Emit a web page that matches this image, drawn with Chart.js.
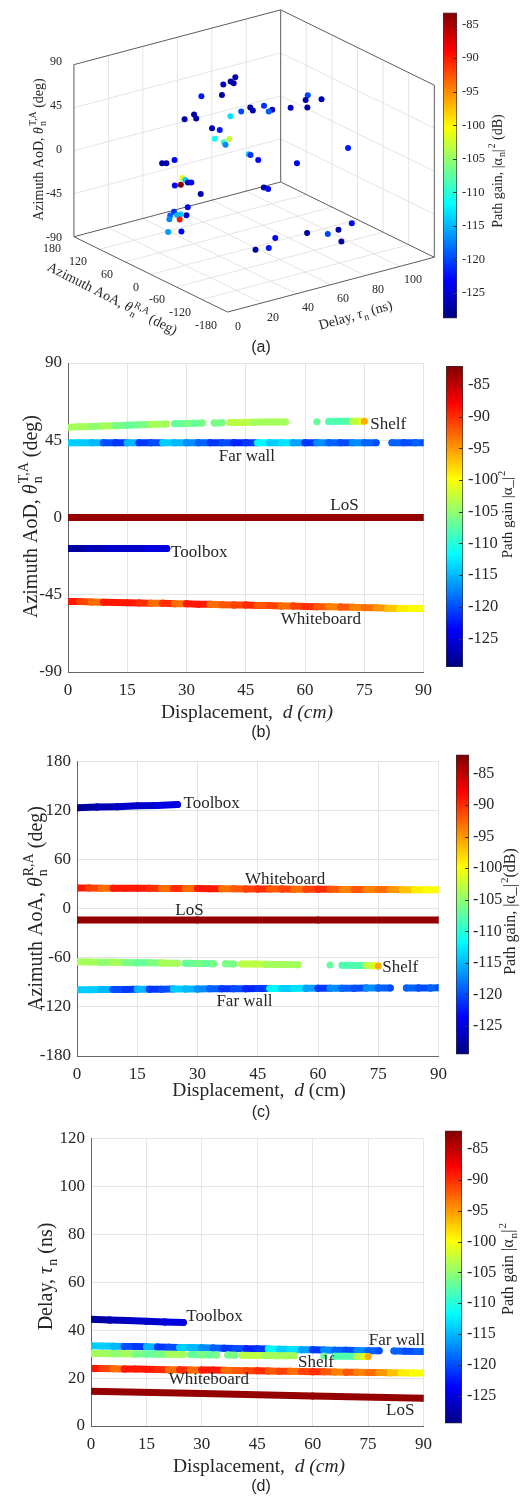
<!DOCTYPE html>
<html lang="en">
<head>
    <meta charset="UTF-8">
    <title>Multipath components vs. displacement</title>
    <script src="https://cdn.jsdelivr.net/npm/chart.js"></script>
    <style>
        html, body { margin: 0; padding: 0; background: #fff; }
        #page { position: relative; width: 522px; height: 1497px; overflow: hidden; background: #fff; }
    </style>
</head>
<body>
    <div id="page"></div>
    <script>
        // Ticks
        const dispTicks = [0, 15, 30, 45, 60, 75, 90];
        const aodTicks = [-90, -45, 0, 45, 90];
        const aoaTicks = [-180, -120, -60, 0, 60, 120, 180];
        const delayTicks = [0, 20, 40, 60, 80, 100, 120];
        const delayTicks3d = [0, 20, 40, 60, 80, 100];
        const gainTicks = [-125, -120, -115, -110, -105, -100, -95, -90, -85];

        // (a) single snapshot: delay (ns), AoA (deg), AoD (deg), gain (dB)
        const snapDelay = [60, 60, 62, 55, 45, 50, 80, 80, 85, 75, 80, 65, 60, 60, 68, 66, 55, 45, 40, 40, 35, 45, 48, 35, 30, 32, 33, 90, 50, 50, 52, 70, 20, 20, 22, 25, 26, 28, 30, 12, 14, 30, 55, 57, 20, 15, 20, 18, 22, 21, 20, 23, 20, 24, 50, 65, 75, 80, 85, 75, 40, 45];
        const snapAoA = [44, 55, 56, 52, 63, 35, -45, -40, -57, -25, -44, -3, 9, 3, -10, -10, 10, -5, 60, 55, 62, 38, 32, -9, -63, -42, -42, -99, -28, -32, -42, -60, 54, 44, 33, 27, 24, 26, 26, -8, -14, 4, -43, -45, -6, 6, -3, 27, 19, 23, 37, 25, 40, 25, -90, -104, -112, -117, -128, -144, -84, -95];
        const snapAoD = [78, 71, 68, 71, 61, 66, 69, 63, 65, 54, 56, 56, 54, 52, 52, 51, 52, 55, 45, 42, 42, 33, 31, 37, 51, 42, 39, 21, 18, 18, 14, 6, 5, 7, 12, -7, -9, -13, -14, -1, 0, -21, -16, -18, -28, -33, -37, -43, -42, -43, -50, -49, -64, -62, -56, -55, -59, -56, -49, -60, -65, -63];
        const snapGain = [-127, -127, -127, -126, -122, -127, -120, -127, -126, -126, -127, -121, -127, -127, -126, -119, -120, -113, -127, -127, -127, -127, -122, -111, -103, -109, -117, -122, -114, -121, -123, -124, -127, -127, -123, -101, -114, -127, -123, -123, -83, -127, -127, -123, -123, -121, -126, -119, -114, -115, -117, -90, -116, -123, -123, -127, -120, -127, -123, -127, -127, -122];

        // (b)-(d) tracked paths vs displacement d (cm)
        const losD = [0, 30, 60, 90];
        const losGain = [-83, -83, -83, -82.5];
        const losAoD = [0, 0, 0, 0];
        const losAoA = [-14, -14, -14, -14];
        const losDelay = [14.5, 13.5, 12.5, 11.6];

        const toolD = [0, 5, 10, 15, 20, 25];
        const toolGain = [-128, -127, -126, -126, -125, -125];
        const toolAoD = [-18, -18, -18, -18, -18, -18];
        const toolAoA = [123, 124, 124.5, 125.5, 126, 127];
        const toolDelay = [44.5, 44.2, 44, 43.7, 43.4, 43.2];

        const wbD = [0, 3, 6, 9, 12, 15, 18, 21, 24, 27, 30, 33, 36, 39, 42, 45, 48, 51, 54, 57, 60, 63, 66, 69, 72, 75, 78, 81, 84, 87, 90];
        const wbGain = [-89, -91, -93, -89, -89, -89, -90, -93, -90, -93, -89, -89, -93, -92, -91, -90, -92, -91, -93, -91, -90, -92, -94, -92, -94, -93, -95, -97, -99, -100, -100];
        const wbAoD = [-49, -49, -49.2, -49.4, -49.5, -49.6, -49.8, -50, -50, -50.2, -50.3, -50.5, -50.6, -50.8, -51, -51, -51.2, -51.3, -51.5, -51.6, -51.8, -52, -52, -52.2, -52.3, -52.5, -52.6, -52.8, -53, -53, -53];
        const wbAoA = [25.2, 25.1, 25, 25, 24.9, 24.8, 24.7, 24.6, 24.5, 24.5, 24.4, 24.3, 24.2, 24.1, 24, 24, 23.9, 23.8, 23.7, 23.6, 23.6, 23.5, 23.4, 23.4, 23.3, 23.2, 23.2, 23.1, 23.1, 23, 23];
        const wbDelay = [24, 24, 23.9, 23.8, 23.8, 23.7, 23.6, 23.5, 23.5, 23.4, 23.3, 23.3, 23.2, 23.1, 23, 23, 22.9, 22.8, 22.8, 22.7, 22.6, 22.6, 22.5, 22.4, 22.4, 22.3, 22.3, 22.2, 22.2, 22.1, 22.1];

        const fwD = [0, 3, 6, 9, 12, 15, 18, 21, 24, 27, 30, 33, 36, 39, 42, 45, 48, 51, 54, 57, 60, 63, 66, 69, 72, 75, 78, 80, 82, 85, 88, 90];
        const fwGain = [-114, -114, -115, -120, -121, -115, -121, -120, -114, -115, -117, -119, -121, -120, -122, -121, -112, -114, -113, -116, -121, -117, -119, -120, -117, -119, -120, -120, -119, -120, -119, -120];
        const fwAoD = [43.5, 43.5, 43.5, 43.5, 43.5, 43.5, 43.5, 43.5, 43.5, 43.5, 43.5, 43.5, 43.5, 43.5, 43.5, 43.5, 43.5, 43.5, 43.5, 43.5, 43.5, 43.5, 43.5, 43.5, 43.5, 43.5, 43.5, null, 43.5, 43.5, 43.5, 43.5];
        const fwAoA = [-99, -99, -98.9, -98.8, -98.7, -98.6, -98.5, -98.4, -98.3, -98.2, -98.1, -98, -98, -97.9, -97.8, -97.7, -97.6, -97.5, -97.5, -97.4, -97.3, -97.3, -97.2, -97.2, -97.1, -97.1, -97, null, -97, -96.9, -96.9, -96.8];
        const fwDelay = [33.5, 33.4, 33.3, 33.2, 33.1, 33, 32.9, 32.8, 32.7, 32.7, 32.6, 32.5, 32.4, 32.3, 32.2, 32.2, 32.1, 32, 31.9, 31.8, 31.8, 31.7, 31.6, 31.6, 31.5, 31.4, 31.4, null, 31.3, 31.2, 31.1, 31.1];

        const shD = [0, 3, 6, 9, 12, 15, 18, 21, 25, 26, 27, 30, 32, 34, 35.5, 37, 39, 40, 41, 44, 47, 50, 53, 55, 59, 63, 64.5, 66, 69, 72, 74, 75];
        const shGain = [-104, -104, -105, -104, -106, -107, -106, -104, -104, -104, -107, -106, -107, -106, -106, -106, -106, -106, -103, -103, -104, -104, -104, -104, -104, -107, -107, -108, -108, -103, -101, -96];
        const shAoD = [52.5, 52.8, 53, 53.3, 53.5, 53.7, 54, 54.2, 54.5, null, 54.6, 54.8, 54.9, 55, null, 55.1, 55.2, null, 55.3, 55.4, 55.5, 55.6, 55.6, 55.7, null, 55.8, null, 55.9, 56, 56, 56, 56];
        const shAoA = [-65, -65.2, -65.4, -65.6, -65.8, -66, -66.2, -66.4, -66.6, null, -66.7, -66.9, -67, -67.2, null, -67.4, -67.5, null, -67.6, -67.8, -68, -68.2, -68.4, -68.5, null, -69, null, -69.2, -69.4, -69.6, -69.8, -70];
        const shDelay = [30.2, 30.2, 30.1, 30.1, 30, 30, 29.9, 29.9, 29.8, null, 29.8, 29.7, 29.7, 29.6, null, 29.6, 29.5, null, 29.5, 29.4, 29.4, 29.3, 29.3, 29.3, null, 29.2, null, 29.1, 29.1, 29, 29, 29];

        const SERIF = '"Liberation Serif", "Times New Roman", serif';
        const SANS = '"Liberation Sans", Arial, sans-serif';
        const INK = '#262626';
        const page = document.getElementById('page');

        function jetT(t) {
            t = Math.min(1, Math.max(0, t));
            const c = v => Math.round(255 * Math.min(1, Math.max(0, v)));
            return 'rgb(' + c(1.5 - Math.abs(4 * t - 3)) + ',' + c(1.5 - Math.abs(4 * t - 2)) + ',' + c(1.5 - Math.abs(4 * t - 1)) + ')';
        }
        const jet = (v, lo, hi) => jetT((v - lo) / (hi - lo));

        function makeCanvas(left, top, w, h) {
            const c = document.createElement('canvas');
            c.width = w; c.height = h;
            c.style.cssText = 'position:absolute;left:' + left + 'px;top:' + top + 'px;width:' + w + 'px;height:' + h + 'px';
            page.appendChild(c);
            return c;
        }

        // text with sub/superscripts: parts = [{t, i, sub, sup}]
        function setFont(ctx, size, italic) {
            ctx.font = (italic ? 'italic ' : '') + size + 'px ' + SERIF;
        }
        function partWidth(ctx, p, size) {
            setFont(ctx, size, p.i);
            const w = ctx.measureText(p.t || '').width;
            let s = 0;
            setFont(ctx, size * 0.7, false);
            if (p.sub) s = Math.max(s, ctx.measureText(p.sub).width);
            if (p.sup) s = Math.max(s, ctx.measureText(p.sup).width);
            return w + s;
        }
        function drawRich(ctx, parts, x, y, rot, size) {
            ctx.save();
            ctx.translate(x, y);
            ctx.rotate(rot * Math.PI / 180);
            ctx.fillStyle = INK;
            ctx.textAlign = 'left';
            ctx.textBaseline = 'alphabetic';
            let W = 0;
            parts.forEach(p => { W += partWidth(ctx, p, size); });
            let cx = -W / 2;
            const base = size * 0.33;
            parts.forEach(p => {
                setFont(ctx, size, p.i);
                ctx.fillText(p.t, cx, base);
                cx += ctx.measureText(p.t).width;
                setFont(ctx, size * 0.7, false);
                let s = 0;
                if (p.sub) { ctx.fillText(p.sub, cx + 1, base + size * 0.25); s = Math.max(s, ctx.measureText(p.sub).width + 1); }
                if (p.sup) { ctx.fillText(p.sup, cx + 1, base - size * 0.45); s = Math.max(s, ctx.measureText(p.sup).width + 1); }
                cx += s;
            });
            ctx.restore();
        }

        function jetGradient(chart) {
            const a = chart.chartArea;
            if (!a) return '#000';
            const g = chart.ctx.createLinearGradient(0, a.bottom, 0, a.top);
            for (let i = 0; i <= 40; i++) g.addColorStop(i / 40, jetT(i / 40));
            return g;
        }

        function colorbar(b) {
            const top = Math.max(0, b.t - 12);
            const h = b.b - top + 12;
            const w = 522 - b.l;
            const c = makeCanvas(b.l, top, w, h);
            new Chart(c, {
                type: 'bar',
                data: {
                    labels: [''],
                    datasets: [{
                        data: [[b.lo, b.hi]],
                        backgroundColor: ctx => jetGradient(ctx.chart),
                        borderColor: '#333',
                        borderWidth: 1,
                        borderSkipped: false,
                        barPercentage: 1,
                        categoryPercentage: 1
                    }]
                },
                options: {
                    responsive: false, animation: false, events: [],
                    layout: { padding: { top: b.t - top, bottom: top + h - b.b, left: 0, right: 0 } },
                    plugins: { legend: { display: false }, tooltip: { enabled: false } },
                    scales: {
                        x: { display: false },
                        y: {
                            position: 'right', min: b.lo, max: b.hi,
                            afterBuildTicks: s => { s.ticks = gainTicks.map(value => ({ value })); },
                            afterFit: s => { s.width = w - (b.r - b.l); },
                            ticks: { font: { family: SERIF, size: b.fs }, color: INK, padding: b.pad },
                            grid: { display: false, drawTicks: false },
                            border: { display: false }
                        }
                    }
                },
                plugins: [{
                    id: 'cbText',
                    afterDraw(chart) {
                        const ctx = chart.ctx, y = chart.scales.y, r = chart.chartArea.right;
                        ctx.save();
                        ctx.strokeStyle = '#333';
                        ctx.lineWidth = 1;
                        gainTicks.forEach(v => {
                            const py = Math.round(y.getPixelForValue(v)) + 0.5;
                            ctx.beginPath(); ctx.moveTo(r - 4, py); ctx.lineTo(r, py); ctx.stroke();
                        });
                        ctx.restore();
                        drawRich(ctx, b.title, b.tx - b.l, b.ty - top, -90, b.tfs);
                    }
                }]
            });
        }

        // ---------- (a) 3-D scatter, orthographic projection ----------
        const D_MAX = 120;
        function proj(d, a, e) {
            return {
                x: 227 + 1.75 * d - 156 / 360 * (a + 180),
                y: 315 - 56 / 120 * d - 77 / 360 * (a + 180) - 176 / 180 * (e + 90)
            };
        }
        function segs(list) {
            const pts = [];
            list.forEach(([p, q]) => { pts.push(p, q, { x: q.x, y: null }); });
            return pts;
        }
        const gridPairs = [];
        delayTicks3d.filter(d => d > 0).forEach(d => {
            gridPairs.push([proj(d, -180, -90), proj(d, 180, -90)]);
            gridPairs.push([proj(d, 180, -90), proj(d, 180, 90)]);
        });
        aoaTicks.filter(a => a > -180 && a < 180).forEach(a => {
            gridPairs.push([proj(0, a, -90), proj(D_MAX, a, -90)]);
            gridPairs.push([proj(D_MAX, a, -90), proj(D_MAX, a, 90)]);
        });
        aodTicks.filter(e => e > -90 && e < 90).forEach(e => {
            gridPairs.push([proj(0, 180, e), proj(D_MAX, 180, e)]);
            gridPairs.push([proj(D_MAX, -180, e), proj(D_MAX, 180, e)]);
        });
        const boxPairs = [
            [proj(0, 180, -90), proj(0, 180, 90)],
            [proj(D_MAX, 180, -90), proj(D_MAX, 180, 90)],
            [proj(D_MAX, -180, -90), proj(D_MAX, -180, 90)],
            [proj(0, 180, 90), proj(D_MAX, 180, 90)],
            [proj(D_MAX, 180, 90), proj(D_MAX, -180, 90)],
            [proj(0, 180, -90), proj(0, -180, -90)],
            [proj(0, -180, -90), proj(D_MAX, -180, -90)],
            [proj(0, 180, -90), proj(D_MAX, 180, -90)],
            [proj(D_MAX, 180, -90), proj(D_MAX, -180, -90)]
        ];
        const A_LO = -128.8, A_HI = -83.2;

        new Chart(makeCanvas(0, 0, 522, 362), {
            type: 'scatter',
            data: {
                datasets: [{
                    order: 0,
                    data: snapDelay.map((d, i) => proj(d, snapAoA[i], snapAoD[i])),
                    pointRadius: 3,
                    pointBorderWidth: 0,
                    pointBackgroundColor: snapGain.map(g => jet(g, A_LO, A_HI))
                }, {
                    order: 1,
                    data: segs(boxPairs),
                    showLine: true, pointRadius: 0, borderColor: '#5c5c5c', borderWidth: 1
                }, {
                    order: 2,
                    data: segs(gridPairs),
                    showLine: true, pointRadius: 0, borderColor: '#e4e4e4', borderWidth: 1
                }]
            },
            options: {
                responsive: false, animation: false, events: [],
                layout: { padding: 0 },
                plugins: { legend: { display: false }, tooltip: { enabled: false } },
                scales: {
                    x: { type: 'linear', min: 0, max: 522, display: false },
                    y: { type: 'linear', min: 0, max: 362, reverse: true, display: false }
                }
            },
            plugins: [{
                id: 'axes3d',
                afterDraw(chart) {
                    const ctx = chart.ctx;
                    ctx.save();
                    ctx.fillStyle = INK;
                    ctx.font = '12px ' + SERIF;
                    ctx.textBaseline = 'middle';
                    ctx.textAlign = 'right';
                    aodTicks.forEach(e => { const q = proj(0, 180, e); ctx.fillText(String(e), q.x - 9, q.y); });
                    aoaTicks.forEach(a => { const q = proj(0, a, -90); ctx.fillText(String(a), q.x - 10, q.y + 11); });
                    ctx.textAlign = 'center';
                    delayTicks3d.forEach(d => { const q = proj(d, -180, -90); ctx.fillText(String(d), q.x + 11, q.y + 12); });
                    ctx.font = '16px ' + SANS;
                    ctx.fillText('(a)', 261, 348);
                    ctx.restore();
                    drawRich(ctx, [{ t: 'Azimuth AoD, ' }, { t: 'θ', i: true, sub: 'n', sup: 'T,A' }, { t: ' (deg)' }], 38, 150, -90, 14);
                    drawRich(ctx, [{ t: 'Azimuth AoA, ' }, { t: 'θ', i: true, sub: 'n', sup: 'R,A' }, { t: ' (deg)' }], 112, 298, 27, 14);
                    drawRich(ctx, [{ t: 'Delay, ' }, { t: 'τ', i: true, sub: 'n' }, { t: ' (ns)' }], 355, 315, -16, 14);
                }
            }]
        });
        colorbar({ l: 443, r: 457, t: 6, b: 319, lo: A_LO, hi: A_HI, fs: 12.5, pad: 5,
            title: [{ t: 'Path gain, |α', sub: 'n' }, { t: '|', sup: '2' }, { t: ' (dB)' }], tx: 497, ty: 172, tfs: 14 });

        // ---------- (b)-(d) ----------
        function pathDataset(d, v, g, lo, hi) {
            return {
                data: d.map((x, i) => ({ x, y: v[i] })),
                borderWidth: 7,
                borderCapStyle: 'round',
                borderJoinStyle: 'round',
                borderColor: jet(g[0], lo, hi),
                segment: { borderColor: c => jet(g[c.p0DataIndex], lo, hi) },
                pointRadius: 3.5,
                pointBorderWidth: 0,
                pointBackgroundColor: g.map(x => jet(x, lo, hi)),
                tension: 0,
                spanGaps: false,
                fill: false
            };
        }

        function panel(p) {
            const c = makeCanvas(0, p.top, p.width, p.height);
            const tickFont = { family: SERIF, size: 17 };
            const axisBase = {
                type: 'linear',
                grid: { color: '#e4e4e4', drawTicks: false },
                border: { color: '#666' }
            };
            new Chart(c, {
                type: 'line',
                data: { datasets: p.series.map(s => pathDataset(s[0], s[1], s[2], p.lo, p.hi)) },
                options: {
                    responsive: false, animation: false, events: [],
                    layout: { padding: { top: p.area.t - p.top, right: p.width - p.area.r, left: 0, bottom: 0 } },
                    plugins: { legend: { display: false }, tooltip: { enabled: false } },
                    scales: {
                        x: Object.assign({}, axisBase, {
                            min: 0, max: 90,
                            afterBuildTicks: s => { s.ticks = dispTicks.map(value => ({ value })); },
                            afterFit: s => { s.height = p.top + p.height - p.area.b; },
                            ticks: { font: tickFont, color: INK, padding: 8, maxRotation: 0, autoSkip: false }
                        }),
                        y: Object.assign({}, axisBase, {
                            min: p.yMin, max: p.yMax,
                            afterBuildTicks: s => { s.ticks = p.yTicks.map(value => ({ value })); },
                            afterFit: s => { s.width = p.area.l; },
                            ticks: { font: tickFont, color: INK, padding: 6, autoSkip: false }
                        })
                    }
                },
                plugins: [{
                    id: 'texts',
                    afterDraw(chart) {
                        const ctx = chart.ctx, sx = chart.scales.x, sy = chart.scales.y;
                        ctx.save();
                        ctx.fillStyle = INK;
                        ctx.font = '17px ' + SERIF;
                        ctx.textBaseline = 'middle';
                        p.labels.forEach(l => {
                            ctx.textAlign = l.align || 'center';
                            ctx.fillText(l.t, sx.getPixelForValue(l.x), sy.getPixelForValue(l.y));
                        });
                        ctx.textAlign = 'center';
                        ctx.font = '16px ' + SANS;
                        ctx.fillText(p.caption, 261, p.capY - p.top);
                        ctx.restore();
                        drawRich(ctx, p.yTitle, p.yTitleX, p.yTitleY - p.top, -90, 20);
                        drawRich(ctx, p.xTitle, p.xTitleX, p.xTitleY - p.top, 0, 19.5);
                    }
                }]
            });
            colorbar(p.bar);
        }

        const LO = -129.5, HI = -82;
        const thetaT = [{ t: 'Azimuth AoD, ' }, { t: 'θ', i: true, sub: 'n', sup: 'T,A' }, { t: ' (deg)' }];
        const thetaR = [{ t: 'Azimuth AoA, ' }, { t: 'θ', i: true, sub: 'n', sup: 'R,A' }, { t: ' (deg)' }];

        panel({
            top: 338, height: 408, width: 440,
            area: { l: 68, r: 426, t: 363, b: 672 },
            yMin: -90, yMax: 90, yTicks: aodTicks, lo: LO, hi: HI,
            series: [[shD, shAoD, shGain], [fwD, fwAoD, fwGain], [wbD, wbAoD, wbGain], [toolD, toolAoD, toolGain], [losD, losAoD, losGain]],
            labels: [
                { t: 'Shelf', x: 76.5, y: 54, align: 'left' },
                { t: 'Far wall', x: 45.3, y: 35.4 },
                { t: 'LoS', x: 70, y: 7 },
                { t: 'Toolbox', x: 26.1, y: -20.5, align: 'left' },
                { t: 'Whiteboard', x: 64, y: -59.7 }
            ],
            yTitle: thetaT, yTitleX: 30, yTitleY: 517,
            xTitle: [{ t: 'Displacement,  ' }, { t: 'd (cm)', i: true }], xTitleX: 247, xTitleY: 712,
            caption: '(b)', capY: 733,
            bar: { l: 446, r: 463, t: 363, b: 670, lo: LO, hi: HI, fs: 16.5, pad: 5,
                title: [{ t: 'Path gain |α_|', sup: '2' }], tx: 507, ty: 515, tfs: 15 }
        });

        panel({
            top: 745, height: 380, width: 455,
            area: { l: 77, r: 441, t: 753, b: 1056 },
            yMin: -180, yMax: 180, yTicks: aoaTicks, lo: LO, hi: HI,
            series: [[shD, shAoA, shGain], [fwD, fwAoA, fwGain], [wbD, wbAoA, wbGain], [toolD, toolAoA, toolGain], [losD, losAoA, losGain]],
            labels: [
                { t: 'Toolbox', x: 26.5, y: 128, align: 'left' },
                { t: 'Whiteboard', x: 51.8, y: 36 },
                { t: 'LoS', x: 28, y: -2.6 },
                { t: 'Shelf', x: 76, y: -72, align: 'left' },
                { t: 'Far wall', x: 41.7, y: -113.5 }
            ],
            yTitle: thetaR, yTitleX: 35, yTitleY: 909,
            xTitle: [{ t: 'Displacement,  ' }, { t: 'd', i: true }, { t: ' (cm)' }], xTitleX: 259, xTitleY: 1090,
            caption: '(c)', capY: 1113,
            bar: { l: 456, r: 469, t: 753, b: 1056, lo: LO, hi: HI, fs: 16, pad: 4,
                title: [{ t: 'Path gain, |α_|', sup: '2' }, { t: '(dB)' }], tx: 510, ty: 912, tfs: 16 }
        });

        panel({
            top: 1122, height: 375, width: 440,
            area: { l: 91, r: 427, t: 1128, b: 1426 },
            yMin: 0, yMax: 120, yTicks: delayTicks, lo: LO, hi: HI,
            series: [[shD, shDelay, shGain], [fwD, fwDelay, fwGain], [wbD, wbDelay, wbGain], [toolD, toolDelay, toolGain], [losD, losDelay, losGain]],
            labels: [
                { t: 'Toolbox', x: 25.8, y: 45.6, align: 'left' },
                { t: 'Far wall', x: 82.8, y: 35.6 },
                { t: 'Shelf', x: 60.9, y: 26.6 },
                { t: 'Whiteboard', x: 31.9, y: 19.2 },
                { t: 'LoS', x: 83.7, y: 6.4 }
            ],
            yTitle: [{ t: 'Delay, ' }, { t: 'τ', i: true, sub: 'n' }, { t: ' (ns)' }], yTitleX: 45, yTitleY: 1277,
            xTitle: [{ t: 'Displacement,  ' }, { t: 'd (cm)', i: true }], xTitleX: 259, xTitleY: 1466,
            caption: '(d)', capY: 1487,
            bar: { l: 445, r: 462, t: 1128, b: 1426, lo: LO, hi: HI, fs: 16, pad: 5,
                title: [{ t: 'Path gain |α', sub: 'n' }, { t: '|', sup: '2' }], tx: 508, ty: 1270, tfs: 16 }
        });
    </script>
</body>
</html>
